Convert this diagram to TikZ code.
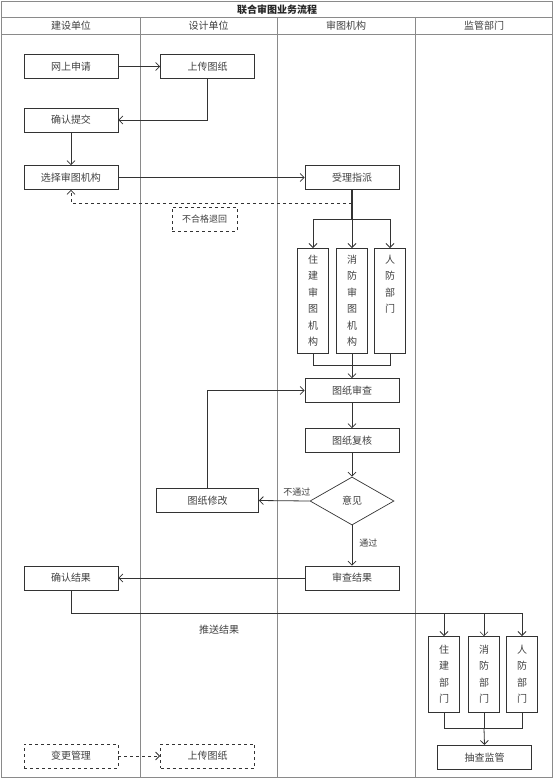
\documentclass[tikz,border=0pt]{standalone}
\usepackage{fontspec}
\setmainfont{Noto Sans CJK SC}
\usetikzlibrary{arrows.meta,shapes.geometric,calc,positioning}

\definecolor{lanegray}{HTML}{8A8A8A}
\definecolor{boxline}{HTML}{333333}
\definecolor{txt}{HTML}{404040}

\tikzset{
    lane/.style={draw=lanegray, line width=0.7pt},
    box/.style={draw=boxline, line width=0.7pt, minimum width=94pt, minimum height=24pt,
                inner sep=0pt, text=txt, font=\fontsize{10}{12}\selectfont},
    dashbox/.style={box, dashed, line width=0.8pt},
    vbox/.style={draw=boxline, line width=0.7pt, minimum width=31pt, inner sep=0pt,
                 align=center, text=txt, font=\fontsize{10}{16.5}\selectfont},
    flow/.style={draw=boxline, line width=0.8pt, -{Straight Barb[length=4pt,width=8pt]}},
    link/.style={draw=boxline, line width=0.8pt},
    note/.style={text=txt, font=\fontsize{9}{11}\selectfont, inner sep=1pt}
}

\begin{document}
\begin{tikzpicture}[x=1pt, y=-1pt]
        \useasboundingbox (0,0) rectangle (555,780);

        % Frame and lanes
        \draw[lane] (1.5,1.5) rectangle (552.5,777.5);
        \draw[lane] (1.5,17) -- (552.5,17);
        \draw[lane] (1.5,34.5) -- (552.5,34.5);
        \foreach \x in {140,277,415} {
            \draw[lane] (\x,17) -- (\x,777.5);
        }

        \node[text=black!85, font=\fontsize{10}{12}\selectfont\bfseries] (title) at (277,9.5) {联合审图业务流程};
        \node[text=txt, font=\fontsize{10}{12}\selectfont] (hjs) at (71,26) {建设单位};
        \node[text=txt, font=\fontsize{10}{12}\selectfont] (hsj) at (208.5,26) {设计单位};
        \node[text=txt, font=\fontsize{10}{12}\selectfont] (hst) at (346,26) {审图机构};
        \node[text=txt, font=\fontsize{10}{12}\selectfont] (hjg) at (484,26) {监管部门};

        % Upper part
        \node[box] (wssq) at (71,66.5) {网上申请};
        \node[box] (sctz) at (207.5,66.5) {上传图纸};
        \node[box] (qrtj) at (71,120) {确认提交};
        \node[box] (xzjg) at (71,177.5) {选择审图机构};
        \node[box] (slzp) at (352,177.5) {受理指派};
        \node[draw=boxline, dashed, line width=0.6pt, minimum width=65pt, minimum height=24pt,
              inner sep=0pt, text=txt, font=\fontsize{9}{11}\selectfont] (bhg) at (204.5,219) {不合格退回};

        \draw[flow] (wssq) -- (sctz);
        \draw[flow] (sctz.south) |- (qrtj.east);
        \draw[flow] (qrtj) -- (xzjg);
        \draw[flow] (xzjg) -- (slzp);

        % Split to review bodies
        \node[vbox, minimum height=105pt, anchor=north] (zjst) at (313,248) {住\\建\\审\\图\\机\\构};
        \node[vbox, minimum height=105pt, anchor=north] (xfst) at (352,248) {消\\防\\审\\图\\机\\构};
        \node[vbox, minimum height=105pt, anchor=north] (rfbm) at (390,248) {人\\防\\部\\门\\\phantom{门}\\\phantom{门}};

        \coordinate (ret) at (352,203);
        \coordinate (split) at (352,219.5);
        \draw[boxline, line width=1.8pt] (slzp.south) -- (split);
        \draw[flow, dashed] (ret) -| (xzjg.south);
        \draw[flow] (split) -| (zjst.north);
        \draw[flow] (split) -- (xfst.north);
        \draw[flow] (split) -| (rfbm.north);

        % Review
        \node[box] (tzsc) at (352,390.5) {图纸审查};
        \node[box] (tzfh) at (352,440.5) {图纸复核};
        \node[diamond, draw=boxline, line width=0.7pt, aspect=1.75, minimum width=84pt,
              minimum height=48pt, inner sep=0pt, text=txt, font=\fontsize{10}{12}\selectfont] (yj) at (352,501) {意见};
        \node[box, minimum width=102pt] (tzxg) at (207.5,500.5) {图纸修改};
        \node[box] (scjg) at (352,578) {审查结果};
        \node[box] (qrjg) at (71,578) {确认结果};

        \coordinate (merge) at (352,365.5);
        \draw[link] (zjst.south) |- (merge);
        \draw[link] (rfbm.south) |- (merge);
        \draw[link] (xfst.south) -- (merge);
        \draw[flow] (merge) -- (tzsc.north);
        \draw[flow] (tzsc) -- (tzfh);
        \draw[flow] (tzfh) -- (yj.north);
        \draw[flow] (yj.west) -- node[note, above, pos=0.25, yshift=3pt] {不通过} (tzxg.east);
        \draw[flow] (tzxg.north) |- (tzsc.west);
        \draw[flow] (yj.south) -- node[note, right, pos=0.45, xshift=6pt] {通过} (scjg.north);
        \draw[flow] (scjg) -- (qrjg);

        % Push results to supervision
        \node[note, font=\fontsize{10}{12}\selectfont] (tsjg) at (219,630) {推送结果};
        \node[vbox, minimum height=76pt, anchor=north] (zjbm) at (444,636) {住\\建\\部\\门};
        \node[vbox, minimum height=76pt, anchor=north] (xfbm) at (484,636) {消\\防\\部\\门};
        \node[vbox, minimum height=76pt, anchor=north] (rfjg) at (522,636) {人\\防\\部\\门};
        \node[box, line width=1.1pt] (ccjg) at (484.5,757.5) {抽查监管};

        \coordinate (push) at (484,613);
        \coordinate (join) at (484,728);
        \draw[link] (qrjg.south) |- (rfjg.north |- push);
        \draw[flow] (zjbm.north |- push) -- (zjbm.north);
        \draw[flow, line width=0.5pt] (push) -- (xfbm.north);
        \draw[flow] (rfjg.north |- push) -- (rfjg.north);
        \draw[link] (zjbm.south) |- (join);
        \draw[link, line width=0.5pt] (rfjg.south) |- (join);
        \draw[link, line width=0.5pt] (xfbm.south) -- (join);
        \draw[flow] (join) -- (ccjg.north);

        % Change management
        \node[dashbox] (bggl) at (71,756) {变更管理};
        \node[dashbox] (sctz2) at (207.5,756) {上传图纸};
        \draw[flow, dashed] (bggl) -- (sctz2);
\end{tikzpicture}
\end{document}
